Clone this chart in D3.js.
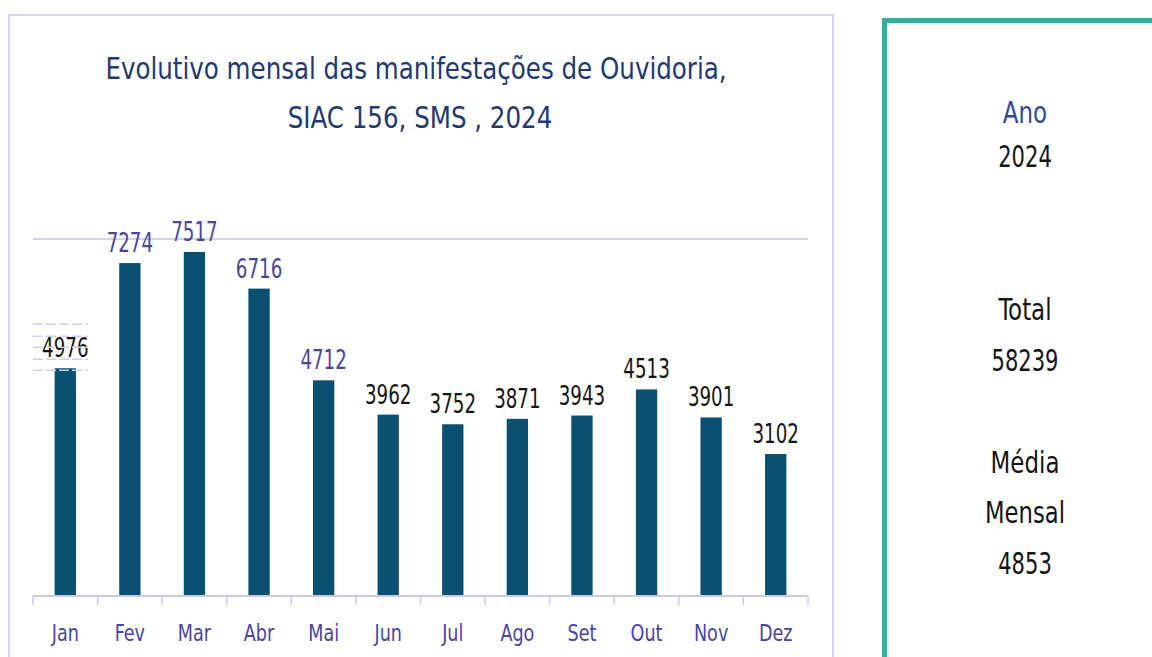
<!DOCTYPE html>
<html>
<head>
<meta charset="utf-8">
<script src="https://cdn.jsdelivr.net/npm/d3@7/dist/d3.min.js"></script>
<style>
  html, body { margin: 0; padding: 0; background: #ffffff; }
  svg { display: block; }
  text { font-family: "Liberation Sans Narrow", "DejaVu Sans Condensed", "Roboto", sans-serif; }
</style>
</head>
<body>
<svg id="chart" width="1152" height="657"></svg>
<script>
// Monthly Ouvidoria records, SIAC 156, SMS, 2024
const months = ["Jan", "Fev", "Mar", "Abr", "Mai", "Jun", "Jul", "Ago", "Set", "Out", "Nov", "Dez"];
const values = [4976, 7274, 7517, 6716, 4712, 3962, 3752, 3871, 3943, 4513, 3901, 3102];
// labels typed in the highlight colour
const highlighted = ["Fev", "Mar", "Abr", "Mai"];
const titleLines = ["Evolutivo mensal das manifestações de Ouvidoria,", "SIAC 156, SMS , 2024"];
const yearLabel = "2024";
const yMax = 7800;

const total = d3.sum(values);
const mean = Math.round(total / values.length);

const svg = d3.select("#chart");

// narrow the running text so it sets like a condensed face
function condense(sel, factor) {
  sel.each(function () {
    const len = this.getComputedTextLength();
    d3.select(this)
      .attr("textLength", len * factor)
      .attr("lengthAdjust", "spacingAndGlyphs");
  });
}

// ---- left chart panel frame
svg.append("path")
  .attr("d", "M9,660 V15 H833 V660")
  .attr("fill", "none")
  .attr("stroke", "#d6d3f5")
  .attr("stroke-width", 2);

// ---- title
svg.append("g").selectAll("text")
  .data(titleLines)
  .join("text")
  .attr("x", (d, i) => i === 0 ? 416 : 420)
  .attr("y", (d, i) => 79 + i * 49)
  .attr("text-anchor", "middle")
  .attr("font-size", 31)
  .attr("fill", "#1f3a72")
  .text(d => d)
  .call(condense, 0.88);

// ---- scales
const x = d3.scaleBand()
  .domain(months)
  .range([33, 808])
  .paddingInner(0.67)
  .paddingOuter(0.335);

const y = d3.scaleLinear()
  .domain([0, yMax])
  .range([596, 239]);

// top gridline
svg.append("line")
  .attr("x1", 33).attr("x2", 808)
  .attr("y1", y(yMax)).attr("y2", y(yMax))
  .attr("stroke", "#d2d0f3")
  .attr("stroke-width", 2);

// ---- bars
svg.append("g").selectAll("rect")
  .data(values)
  .join("rect")
  .attr("x", (d, i) => x(months[i]))
  .attr("width", x.bandwidth())
  .attr("y", d => y(d))
  .attr("height", d => y(0) - y(d))
  .attr("fill", "#0b4f71");

// ---- x axis
const xAxis = svg.append("g")
  .attr("transform", `translate(0,${y(0)})`)
  .call(d3.axisBottom(x).tickSize(0).tickPadding(0));
xAxis.select(".domain")
  .attr("d", "M33,0H808")
  .attr("stroke", "#cbc8f0")
  .attr("stroke-width", 2);
xAxis.selectAll(".tick text")
  .attr("y", 45)
  .attr("dy", 0)
  .attr("font-size", 23)
  .attr("font-family", null)
  .attr("fill", "#4a44a6")
  .call(condense, 0.85);

// tick marks on the category boundaries
const bounds = d3.range(months.length + 1).map(i => 33 + i * (775 / months.length));
svg.append("g").selectAll("line")
  .data(bounds)
  .join("line")
  .attr("x1", d => d).attr("x2", d => d)
  .attr("y1", y(0)).attr("y2", y(0) + 9)
  .attr("stroke", "#cbc8f0")
  .attr("stroke-width", 1.5);

// ---- value labels
const labelY = d => y(d) - 11;
svg.append("g").selectAll("text")
  .data(values)
  .join("text")
  .attr("x", (d, i) => x(months[i]) + x.bandwidth() / 2)
  .attr("y", d => labelY(d))
  .attr("text-anchor", "middle")
  .attr("font-size", 26)
  .attr("fill", (d, i) => highlighted.includes(months[i]) ? "#4a45a0" : "#151515")
  .text(d => d)
  .call(condense, 0.78);

// dashed selection guides around the first label
const janY = labelY(values[0]);
svg.append("g").selectAll("line")
  .data([-33, -21, -10, 2, 13])
  .join("line")
  .attr("x1", 33).attr("x2", 88)
  .attr("y1", d => janY + d).attr("y2", d => janY + d)
  .attr("stroke", "#cfcdf2")
  .attr("stroke-width", 1.5)
  .attr("stroke-dasharray", "10,3");

// ---- summary panel
svg.append("path")
  .attr("d", "M884.5,662 V20.5 H1160")
  .attr("fill", "none")
  .attr("stroke", "#3aab9c")
  .attr("stroke-width", 5);

const summary = [
  { t: "Ano", y: 123, c: "#2d4b9b", k: 0.85 },
  { t: yearLabel, y: 167, c: "#151515", k: 0.78 },
  { t: "Total", y: 320, c: "#151515", k: 0.85 },
  { t: String(total), y: 371, c: "#151515", k: 0.78 },
  { t: "Média", y: 473, c: "#151515", k: 0.85 },
  { t: "Mensal", y: 523, c: "#151515", k: 0.84 },
  { t: String(mean), y: 574, c: "#151515", k: 0.78 }
];
svg.append("g").selectAll("text")
  .data(summary)
  .join("text")
  .attr("x", 1025)
  .attr("y", d => d.y)
  .attr("text-anchor", "middle")
  .attr("font-size", 30)
  .attr("fill", d => d.c)
  .text(d => d.t)
  .each(function (d) { d3.select(this).call(condense, d.k); });
</script>
</body>
</html>
